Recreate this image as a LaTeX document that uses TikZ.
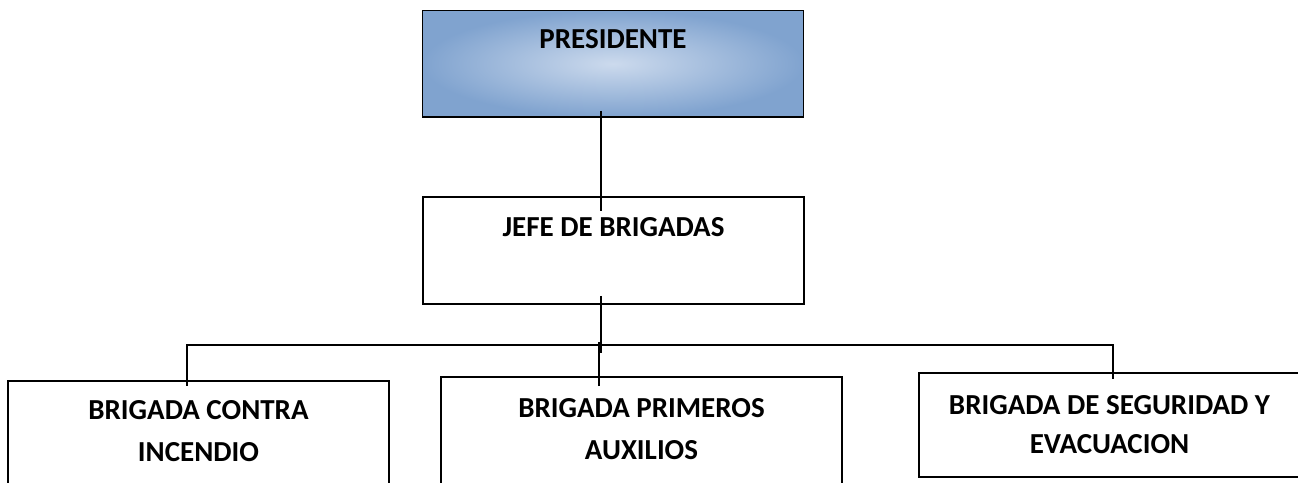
\documentclass[tikz,border=0pt]{standalone}
\usepackage{fontspec}
\setmainfont{Carlito}
\definecolor{presOuter}{RGB}{128,163,207}
\definecolor{presInner}{RGB}{204,218,237}
\begin{document}
\begin{tikzpicture}[
  x=1pt, y=-1pt,
  box/.style={draw, line width=1.8pt, inner sep=0pt, minimum width=381pt, align=center,
    font=\bfseries\fontsize{29}{42}\selectfont},
  link/.style={draw, line width=1.6pt}
]
\useasboundingbox (0,0) rectangle (1298,482);
\node[box, inner color=presInner, outer color=presOuter, text height=37.5pt, text depth=69pt] (pres) at (613,63.75) {PRESIDENTE};
\node[box, text height=39pt, text depth=68pt] (jefe) at (613.5,250.5) {JEFE DE BRIGADAS};
\node[box, text height=80.3pt, text depth=59pt] (fire) at (198.5,450.35) {BRIGADA CONTRA\\INCENDIO};
\node[box, minimum width=401pt, text height=82pt, text depth=61pt] (aid) at (641.5,448.5) {BRIGADA PRIMEROS\\AUXILIOS};
\node[box, text height=80pt, text depth=23.7pt, font=\bfseries\fontsize{29}{39}\selectfont] (evac) at (1109.5,424.85) {BRIGADA DE SEGURIDAD Y\\EVACUACION};
\draw[link] ([xshift=-12pt,yshift=7pt]pres.south) -- ([xshift=-12.5pt,yshift=-15pt]jefe.north);
\draw[link] ([xshift=-12.5pt,yshift=9pt]jefe.south) -- ([xshift=-12.5pt,yshift=-48pt]jefe.south);
\draw[link] ([xshift=-11.5pt,yshift=-6pt]fire.north) -- ++(0,-41) -| ([xshift=3.5pt,yshift=-7pt]evac.north);
\draw[link] ([xshift=-42.5pt,yshift=-10pt]aid.north) -- ++(0,-44);
\end{tikzpicture}
\end{document}
